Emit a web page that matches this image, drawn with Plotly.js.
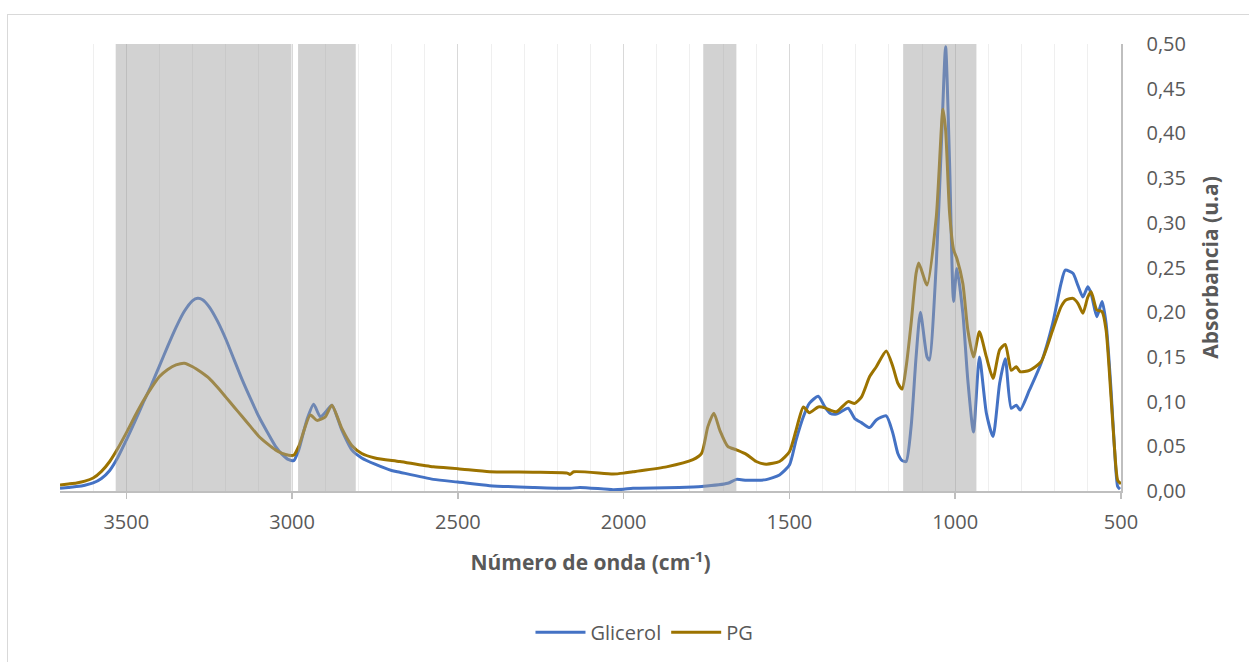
<!DOCTYPE html>
<html>
<head>
<meta charset="utf-8">
<script src="https://cdn.plot.ly/plotly-3.0.1.min.js"></script>
<style>
  html, body { margin: 0; padding: 0; background: #fff; }
  #wrap { position: relative; width: 1249px; height: 662px; overflow: hidden; }
  #chart { width: 1249px; height: 662px; }
  #frame { position: absolute; left: 7px; top: 14px; width: 1300px; height: 700px;
           border: 1px solid #d9d9d9; pointer-events: none; }
</style>
</head>
<body>
<div id="wrap">
  <div id="chart"></div>
  <div id="frame"></div>
</div>
<script>
// ---- Data ----
const seriesNames = ["Glicerol", "PG"];

const wnGlicerol = [3700,3675,3650,3625,3600,3575,3550,3525,3500,3475,3450,3425,3400,3375,3350,3325,3300,3285,3270,3250,3225,3200,3175,3150,3125,3100,3075,3050,3030,3010,2995,2980,2955,2935,2915,2895,2880,2850,2820,2790,2750,2700,2675,2574,2500,2404,2274,2162,2132,2032,2000,1972,1871,1791,1765,1686,1660,1630,1600,1570,1530,1500,1480,1458,1440,1413,1393,1378,1358,1323,1303,1283,1258,1238,1208,1188,1173,1160,1148,1133,1118,1105,1085,1078,1057,1042,1029,1017,1005,995,977,962,945,927,906,886,866,849,831,816,804,776,741,706,681,668,645,630,615,600,590,573,557,545,530,520,510,503];
const absGlicerol = [0.003,0.004,0.005,0.0065,0.009,0.014,0.023,0.038,0.057,0.077,0.098,0.118,0.140,0.162,0.183,0.201,0.213,0.2155,0.214,0.206,0.190,0.170,0.147,0.124,0.103,0.083,0.066,0.050,0.041,0.035,0.034,0.046,0.080,0.097,0.083,0.090,0.096,0.068,0.046,0.037,0.030,0.023,0.021,0.013,0.010,0.006,0.004,0.003,0.004,0.0015,0.002,0.003,0.0035,0.0045,0.005,0.0086,0.013,0.012,0.012,0.0127,0.018,0.029,0.057,0.083,0.098,0.106,0.094,0.087,0.086,0.0925,0.081,0.0765,0.071,0.0795,0.084,0.0645,0.042,0.034,0.033,0.072,0.150,0.200,0.150,0.1465,0.255,0.385,0.497,0.367,0.212,0.249,0.199,0.124,0.066,0.150,0.087,0.061,0.1205,0.148,0.0925,0.096,0.0906,0.113,0.143,0.1875,0.232,0.247,0.2435,0.230,0.217,0.2285,0.221,0.195,0.212,0.1875,0.113,0.050,0.005,0.002];

const wnPG = [3700,3675,3650,3625,3600,3575,3550,3525,3500,3475,3450,3425,3400,3375,3350,3325,3300,3275,3250,3225,3200,3175,3150,3125,3100,3075,3050,3030,3010,2995,2980,2945,2925,2900,2880,2850,2820,2790,2750,2675,2574,2500,2404,2274,2170,2162,2150,2032,2000,1972,1871,1791,1765,1746,1728,1710,1686,1660,1630,1600,1570,1530,1500,1480,1458,1440,1413,1393,1378,1358,1323,1303,1283,1258,1238,1208,1188,1173,1160,1148,1133,1118,1110,1085,1057,1037,1029,1017,1005,995,977,962,945,927,906,886,866,849,831,816,804,776,741,706,681,666,645,630,615,600,590,573,557,545,530,520,510,500];
const absPG = [0.0067,0.0078,0.009,0.011,0.0145,0.022,0.033,0.048,0.065,0.083,0.100,0.115,0.128,0.136,0.141,0.143,0.139,0.133,0.126,0.116,0.105,0.094,0.083,0.072,0.061,0.053,0.046,0.042,0.040,0.040,0.050,0.085,0.079,0.083,0.096,0.070,0.051,0.042,0.037,0.033,0.027,0.025,0.0216,0.021,0.020,0.0185,0.0215,0.019,0.020,0.0216,0.027,0.035,0.042,0.072,0.087,0.068,0.050,0.046,0.041,0.033,0.030,0.033,0.044,0.068,0.094,0.0876,0.094,0.093,0.0906,0.0887,0.100,0.098,0.105,0.128,0.139,0.1566,0.139,0.1205,0.114,0.139,0.1875,0.2435,0.255,0.2304,0.307,0.427,0.404,0.311,0.270,0.260,0.232,0.180,0.150,0.178,0.150,0.126,0.158,0.164,0.135,0.139,0.1334,0.135,0.1446,0.180,0.206,0.2136,0.2155,0.210,0.1988,0.217,0.223,0.2025,0.2006,0.180,0.105,0.050,0.012,0.008];

// Shaded bands (wavenumber start, end)
const bandStart = [3532, 2982, 1760, 1157];
const bandEnd   = [3002, 2808, 1660, 936];

const xTitle = "Número de onda (cm<sup>-1</sup>)";
const yTitle = "Absorbancia (u.a)";

// ---- Chart ----
const FONT = "'Open Sans', 'Liberation Sans', sans-serif";
const colors = ["#4472C4", "#9C7300"];

const traces = [
  { x: wnGlicerol, y: absGlicerol, name: seriesNames[0] },
  { x: wnPG, y: absPG, name: seriesNames[1] }
].map((t, i) => Object.assign(t, {
  type: "scatter", mode: "lines",
  line: { color: colors[i], width: 3, shape: "spline", smoothing: 0.6 }
}));

const shapes = bandStart.map((s, i) => ({
  type: "rect", xref: "x", yref: "y", layer: "above",
  x0: s, x1: bandEnd[i], y0: 0, y1: 0.5,
  fillcolor: "rgba(160,160,160,0.47)", line: { width: 0 }
}));

const layout = {
  width: 1249, height: 662,
  margin: { l: 60, r: 128, t: 44, b: 171 },
  paper_bgcolor: "#ffffff", plot_bgcolor: "#ffffff",
  separators: ",.",
  font: { family: FONT, color: "#595959", size: 20 },
  showlegend: true,
  legend: {
    orientation: "h", xref: "container", yref: "container",
    x: 0.516, xanchor: "center", y: 0.045, yanchor: "middle",
    font: { family: FONT, size: 20, color: "#595959" },
    itemwidth: 50, tracegroupgap: 0
  },
  xaxis: {
    range: [3700, 500], autorange: false,
    tickmode: "linear", tick0: 500, dtick: 500,
    showgrid: true, gridcolor: "#d9d9d9", gridwidth: 1,
    minor: { dtick: 100, tick0: 500, showgrid: true, gridcolor: "#efefef", gridwidth: 1, ticks: "" },
    showline: true, linecolor: "#bfbfbf", linewidth: 1.5,
    ticks: "outside", ticklen: 6, tickcolor: "#bfbfbf", tickwidth: 1.5,
    ticklabelstandoff: 6,
    zeroline: false,
    tickfont: { family: FONT, size: 20, color: "#595959" },
    title: { text: xTitle, standoff: 22, font: { family: FONT, size: 21, color: "#595959", weight: "bold" } }
  },
  yaxis: {
    range: [0, 0.5], autorange: false, side: "right",
    tickmode: "linear", tick0: 0, dtick: 0.05, tickformat: ".2f",
    showgrid: false, zeroline: false,
    showline: true, linecolor: "#bfbfbf", linewidth: 1.5,
    ticks: "", ticklabelstandoff: 20,
    tickfont: { family: FONT, size: 20, color: "#595959" },
    title: { text: yTitle, standoff: 18, font: { family: FONT, size: 21, color: "#595959", weight: "bold" } }
  },
  shapes: shapes
};

Plotly.newPlot("chart", traces, layout, { displayModeBar: false, staticPlot: true });
</script>
</body>
</html>
